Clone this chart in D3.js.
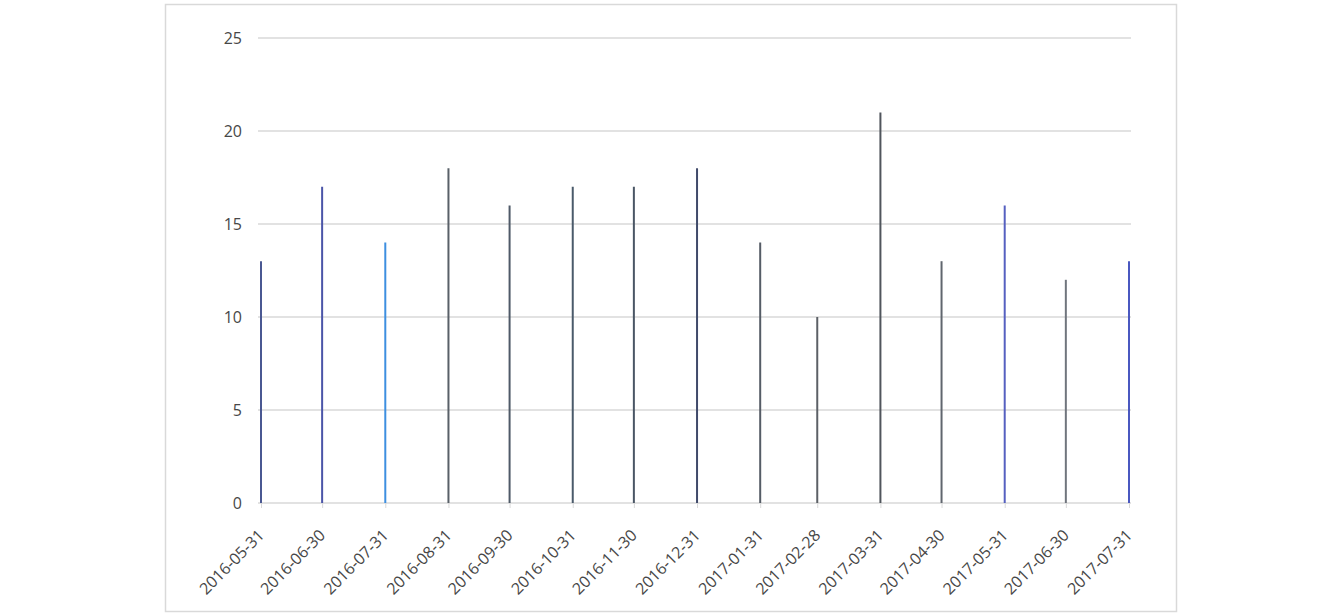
<!DOCTYPE html>
<html>
<head>
<meta charset="utf-8">
<script src="https://cdn.jsdelivr.net/npm/d3@7"></script>
<style>
  body { margin: 0; background: #fff; }
  text { font-family: "Open Sans", "Noto Sans", sans-serif; fill: #474747; }
</style>
</head>
<body>
<div id="chart"></div>
<script>
// month-end dates and counts
const dates = ["2016-05-31", "2016-06-30", "2016-07-31", "2016-08-31", "2016-09-30",
               "2016-10-31", "2016-11-30", "2016-12-31", "2017-01-31", "2017-02-28",
               "2017-03-31", "2017-04-30", "2017-05-31", "2017-06-30", "2017-07-31"];
const counts = [13, 17, 14, 18, 16, 17, 17, 18, 14, 10, 21, 13, 16, 12, 13];
const yTicks = [0, 5, 10, 15, 20, 25];

// line colours, one per date
const barColors = ["#4a5892", "#4b55a8", "#3d8fe0", "#596068", "#4f5a68",
                   "#4a5a6a", "#4a5665", "#404a6a", "#555c66", "#5c6066",
                   "#50555c", "#60666e", "#5560c0", "#70757d", "#4a58c0"];

const parse = d3.timeParse("%Y-%m-%d");
const data = dates.map((d, i) => ({date: parse(d), label: d, count: counts[i], color: barColors[i]}));

const W = 1336, H = 614;

const svg = d3.select("#chart")
  .append("svg")
    .attr("width", W)
    .attr("height", H);

// outer frame
svg.append("rect")
  .attr("x", 165.5).attr("y", 4.5)
  .attr("width", 1011).attr("height", 607)
  .attr("fill", "#fff")
  .attr("stroke", "#d9d9d9")
  .attr("stroke-width", 1.5);

const x = d3.scaleTime()
  .domain(d3.extent(data, d => d.date))
  .range([261, 1129]);

const y = d3.scaleLinear()
  .domain([0, 25])
  .range([503, 38]);

// gridlines
svg.append("g")
  .selectAll("line")
  .data(yTicks)
  .join("line")
    .attr("x1", 258)
    .attr("x2", 1131)
    .attr("y1", d => y(d))
    .attr("y2", d => y(d))
    .attr("stroke", "#d9d9d9")
    .attr("stroke-width", 1.3);

// y labels
svg.append("g")
  .selectAll("text")
  .data(yTicks)
  .join("text")
    .attr("x", 242)
    .attr("y", d => y(d))
    .attr("dy", "0.36em")
    .attr("text-anchor", "end")
    .style("font-size", "16px")
    .text(d => d);

// x axis ticks + labels
const xAxis = svg.append("g")
  .attr("transform", `translate(0,${y(0)})`)
  .call(d3.axisBottom(x).tickValues(data.map(d => d.date)).tickSize(5).tickFormat((d, i) => dates[i]));

xAxis.select(".domain").remove();
xAxis.selectAll(".tick line").attr("stroke", "#d9d9d9");
xAxis.selectAll(".tick text")
  .attr("text-anchor", "end")
  .attr("transform", "rotate(-45)")
  .attr("x", -21)
  .attr("y", 15)
  .attr("dy", "0.7em")
  .style("font-size", "16px")
  .style("font-family", "'Open Sans', sans-serif")
  .style("fill", "#474747");

// lines
svg.append("g")
  .selectAll("line")
  .data(data)
  .join("line")
    .attr("x1", d => x(d.date))
    .attr("x2", d => x(d.date))
    .attr("y1", y(0))
    .attr("y2", d => y(d.count))
    .attr("stroke", d => d.color)
    .attr("stroke-width", 2);
</script>
</body>
</html>
